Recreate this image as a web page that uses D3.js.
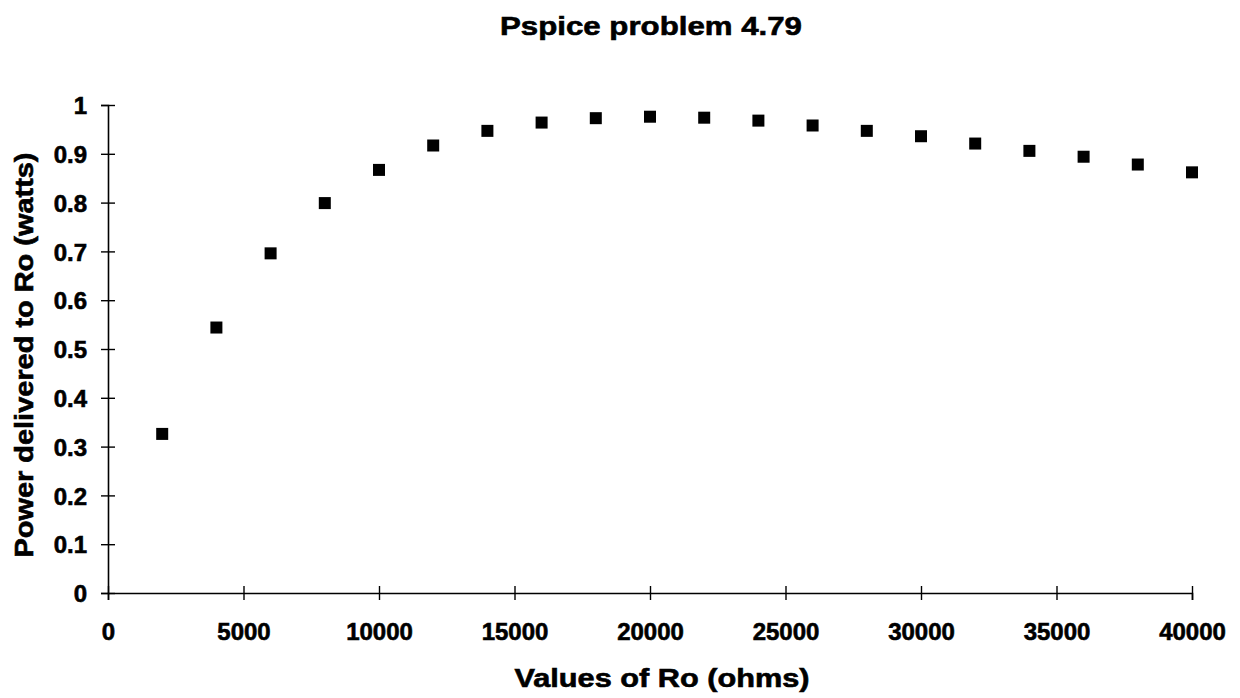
<!DOCTYPE html>
<html>
<head>
<meta charset="utf-8">
<script src="https://cdn.jsdelivr.net/npm/d3@7"></script>
<style>
  body { margin: 0; background: #fff; }
  text { font-family: "Liberation Sans", Arial, sans-serif; font-weight: bold; fill: #000; stroke: #000; stroke-width: 0.6px; }
</style>
</head>
<body>
<div id="chart"></div>
<script>
// chart data
var resistance = [2000, 4000, 6000, 8000, 10000, 12000, 14000, 16000, 18000, 20000,
                  22000, 24000, 26000, 28000, 30000, 32000, 34000, 36000, 38000, 40000];
var power = [0.326, 0.544, 0.696, 0.799, 0.867, 0.917, 0.947, 0.964, 0.973, 0.976,
             0.974, 0.968, 0.958, 0.947, 0.936, 0.921, 0.906, 0.894, 0.878, 0.862];
var xTicks = [0, 5000, 10000, 15000, 20000, 25000, 30000, 35000, 40000];
var yTicks = [0, 0.1, 0.2, 0.3, 0.4, 0.5, 0.6, 0.7, 0.8, 0.9, 1];

var w = 1240;
var h = 698;

var svg = d3.select("#chart")
  .append("svg")
  .attr("width", w)
  .attr("height", h);

var x = d3.scaleLinear().domain([0, 40000]).range([108, 1192]);
var y = d3.scaleLinear().domain([0, 1]).range([593, 105]);

// y axis
var gy = svg.append("g")
  .attr("transform", "translate(" + x(0) + ",0)")
  .call(d3.axisLeft(y).tickValues(yTicks).tickFormat(d3.format("")).tickSize(7).tickPadding(14));
gy.select(".domain").attr("stroke", "#000").attr("stroke-width", 1.6);
gy.selectAll(".tick line").attr("x1", -7).attr("x2", 7).attr("stroke", "#000").attr("stroke-width", 1.4);
gy.selectAll(".tick text").attr("font-size", 24).attr("dy", "0.36em")
  .style("font-family", "'Liberation Sans', Arial, sans-serif").style("font-weight", "bold");

// x axis
var gx = svg.append("g")
  .attr("transform", "translate(0," + y(0) + ")")
  .call(d3.axisBottom(x).tickValues(xTicks).tickFormat(d3.format("d")).tickSize(7).tickPadding(23));
gx.select(".domain").attr("stroke", "#000").attr("stroke-width", 1.6);
gx.selectAll(".tick line").attr("y1", -7).attr("y2", 7).attr("stroke", "#000").attr("stroke-width", 1.4);
gx.selectAll(".tick text").attr("font-size", 24)
  .style("font-family", "'Liberation Sans', Arial, sans-serif").style("font-weight", "bold");

// markers
var pts = resistance.map(function (r, i) { return { r: r, p: power[i] }; });
svg.append("g").selectAll("rect")
  .data(pts)
  .enter()
  .append("rect")
  .attr("x", function (d) { return x(d.r) - 6; })
  .attr("y", function (d) { return y(d.p) - 6; })
  .attr("width", 12)
  .attr("height", 12)
  .attr("fill", "#000");

// titles
svg.append("text")
  .attr("x", 651).attr("y", 35)
  .attr("text-anchor", "middle")
  .attr("font-size", 26)
  .attr("textLength", 302).attr("lengthAdjust", "spacingAndGlyphs")
  .text("Pspice problem 4.79");

svg.append("text")
  .attr("x", 662).attr("y", 687)
  .attr("text-anchor", "middle")
  .attr("font-size", 25)
  .attr("textLength", 295).attr("lengthAdjust", "spacingAndGlyphs")
  .text("Values of Ro (ohms)");

svg.append("text")
  .attr("transform", "translate(33,355) rotate(-90)")
  .attr("text-anchor", "middle")
  .attr("font-size", 25)
  .attr("textLength", 405).attr("lengthAdjust", "spacingAndGlyphs")
  .text("Power delivered to Ro (watts)");
</script>
</body>
</html>
